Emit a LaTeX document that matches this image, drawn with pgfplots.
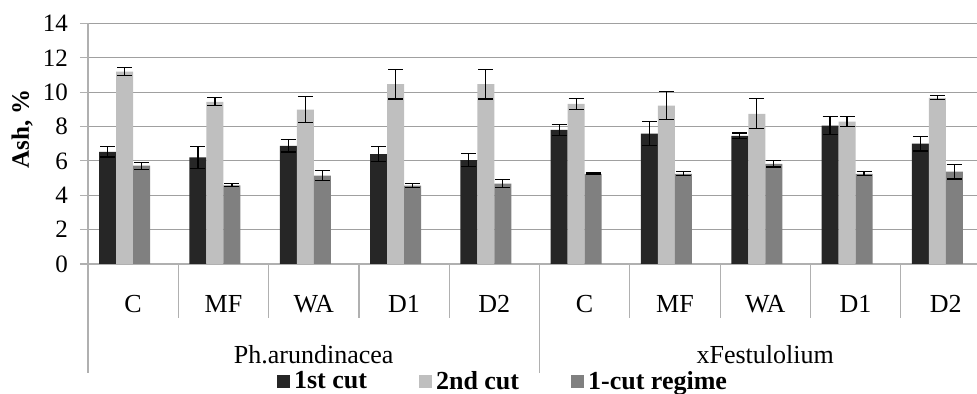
\documentclass[border=0pt]{standalone}
\usepackage{fontspec}
\setmainfont{Liberation Serif}
\usepackage{pgfplots}
\pgfplotsset{compat=1.18}
\usepackage{pgfplotstable}
\definecolor{cA}{HTML}{262626}
\definecolor{cB}{HTML}{BFBFBF}
\definecolor{cC}{HTML}{808080}
\definecolor{gridc}{HTML}{A0A0A0}
\definecolor{axc}{HTML}{B0B0B0}
\pgfplotstableread{
x a ea b eb c ec
0 6.53 0.30 11.19 0.23 5.72 0.20
1 6.20 0.66 9.44 0.24 4.58 0.09
2 6.88 0.36 8.98 0.76 5.14 0.29
3 6.40 0.43 10.47 0.87 4.56 0.13
4 6.05 0.37 10.47 0.87 4.67 0.23
5 7.80 0.30 9.31 0.30 5.25 0.05
6 7.58 0.70 9.21 0.81 5.25 0.12
7 7.45 0.17 8.74 0.87 5.83 0.19
8 8.05 0.53 8.28 0.30 5.25 0.12
9 7.00 0.42 9.67 0.12 5.37 0.42
}\data
\begin{document}
\begin{tikzpicture}
\begin{axis}[
  scale only axis, width=444.5pt, height=120.3pt,
  at={(0,0)}, anchor=south west,
  xmin=-0.5, xmax=9.345, ymin=0, ymax=14,
  ybar=0pt, bar width=8.5pt,
  axis y line*=left, axis x line*=bottom,
  axis line style={axc, line width=0.6pt},
  ytick={0,2,...,14},
  ymajorgrids, major grid style={gridc, line width=0.6pt},
  xtick={0,...,9},
  xticklabels={C,MF,WA,D1,D2,C,MF,WA,D1,D2},
  xtick style={draw=none},
  ytick style={axc, line width=0.6pt},
  tick align=outside, major tick length=4pt,
  xticklabel style={anchor=base, yshift=-20.5pt, font=\fontsize{13}{13}\selectfont},
  yticklabel style={font=\fontsize{12.5}{12.5}\selectfont, xshift=-2.5pt},
  /pgf/number format/assume math mode=true,
  ylabel={\textbf{Ash, \%}},
  ylabel style={at={(axis description cs:-0.0742,0.561)}, anchor=center, font=\fontsize{12.5}{12.5}\selectfont},
  clip=false,
  legend columns=3,
  legend style={at={(0.468,-0.489)}, anchor=center, draw=none, fill=none,
    font=\bfseries\fontsize{13}{13}\selectfont,
    /tikz/every even column/.append style={column sep=24pt}},
  legend cell align=left,
  legend image code/.code={\fill[#1,draw=none] (0pt,-3.25pt) rectangle (6.5pt,3.25pt);},
  error bars/y dir=both, error bars/y explicit,
  error bars/error mark=|,
  error bars/error bar style={black, line width=0.6pt},
  error bars/error mark options={black, line width=0.6pt, mark size=3.75pt},
]
\addplot[fill=cA, draw=none, bar shift=-12.75pt] table[x=x, y=a, y error=ea]{\data};
\addplot[fill=cB, draw=none, bar shift=-4.25pt] table[x=x, y=b, y error=eb]{\data};
\addplot[fill=cC, draw=none, bar shift=4.25pt] table[x=x, y=c, y error=ec]{\data};
\legend{1st cut, 2nd cut, 1-cut regime}
\pgfplotsinvokeforeach{0.5,1.5,2.5,3.5,5.5,6.5,7.5,8.5}{
  \draw[axc, line width=0.6pt] (axis cs:#1,0) -- ++(0pt,-27pt);
}
\draw[axc, line width=0.6pt] (axis cs:-0.5,0) -- ++(0pt,-54.5pt);
\draw[axc, line width=0.6pt] (axis cs:4.5,0) -- ++(0pt,-54.5pt);
\node[anchor=base, yshift=-50pt, font=\fontsize{13}{13}\selectfont] at (axis cs:2,0) {Ph.arundinacea};
\node[anchor=base, yshift=-50pt, font=\fontsize{13}{13}\selectfont] at (axis cs:7,0) {xFestulolium};
\end{axis}
\pgfresetboundingbox
\path (-44pt,-65pt) rectangle (444.5pt,132pt);
\end{tikzpicture}
\end{document}
